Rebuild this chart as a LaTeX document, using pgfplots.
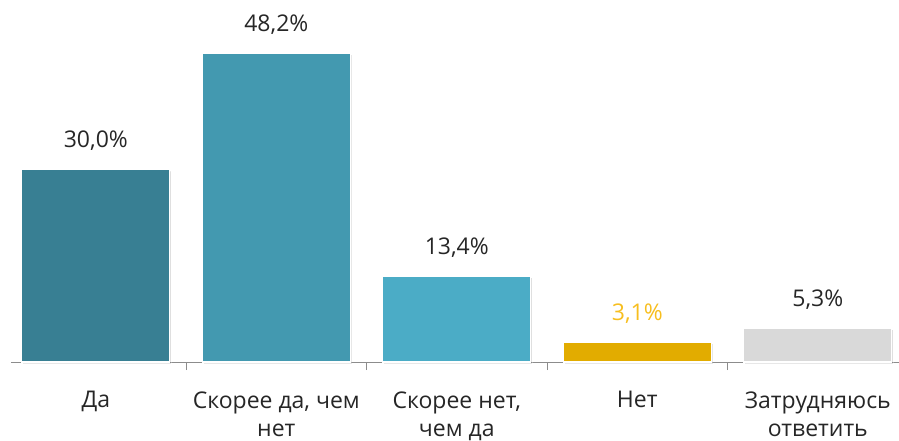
\documentclass[border=0pt]{standalone}
\usepackage{pgfplots}
\pgfplotsset{compat=1.18}
\usepackage{fontspec}
\setmainfont{Open Sans}
\usetikzlibrary{shadows,calc}
\definecolor{c1}{HTML}{387F93}
\definecolor{c2}{HTML}{4399B0}
\definecolor{c3}{HTML}{4BACC6}
\definecolor{c4}{HTML}{E2AC00}
\definecolor{c5}{HTML}{D9D9D9}
\definecolor{lab4}{HTML}{F7BE1E}
\definecolor{axisgray}{HTML}{8C8C8C}
\begin{document}
\begin{tikzpicture}
\begin{axis}[
  scale only axis, width=888pt, height=320.5pt,
  xmin=-0.47, xmax=4.45, ymin=0, ymax=50,
  axis x line*=bottom, axis y line=none,
  x axis line style={draw=axisgray, line width=0.8pt, -},
  xtick={0,1,2,3,4},
  xticklabels={Да, {Скорее да, чем\\нет}, {Скорее нет,\\чем да}, Нет, {Затрудняюсь\\ответить}},
  major tick length=0pt,
  minor xtick={0.5,1.5,2.5,3.5},
  minor tick length=8pt,
  tick align=outside,
  minor tick style={draw=axisgray, line width=0.8pt},
  ytick=\empty,
  xticklabel style={align=center, font=\fontsize{23}{28.5}\selectfont, text=black!85, anchor=north, yshift=-26pt},
  ybar, bar width=148pt, bar shift=0pt,
  nodes near coords={\pgfmathprintnumber{\pgfplotspointmeta}\%},
  nodes near coords style={font=\fontsize{23}{27}\selectfont, text=black!85, anchor=south, yshift=15pt},
  /pgf/number format/assume math mode=true,
  /pgf/number format/fixed, /pgf/number format/fixed zerofill,
  /pgf/number format/precision=1, /pgf/number format/use comma,
  clip=false,
]
\addplot[fill=c1, draw=white, line width=1.2pt, drop shadow={shadow xshift=1.5pt, shadow yshift=-1.5pt, opacity=0.25}] coordinates {(0,30.0)};
\addplot[fill=c2, draw=white, line width=1.2pt, drop shadow={shadow xshift=1.5pt, shadow yshift=-1.5pt, opacity=0.25}] coordinates {(1,48.2)};
\addplot[fill=c3, draw=white, line width=1.2pt, drop shadow={shadow xshift=1.5pt, shadow yshift=-1.5pt, opacity=0.25}] coordinates {(2,13.4)};
\addplot[fill=c4, draw=white, line width=1.2pt, drop shadow={shadow xshift=1.5pt, shadow yshift=-1.5pt, opacity=0.25}, nodes near coords style={text=lab4}] coordinates {(3,3.1)};
\addplot[fill=c5, draw=white, line width=1.2pt, drop shadow={shadow xshift=1.5pt, shadow yshift=-1.5pt, opacity=0.25}] coordinates {(4,5.3)};
\coordinate (o) at (axis cs:-0.47,0);
\end{axis}
\pgfresetboundingbox
\path[use as bounding box] ($(o)+(-11pt,-78pt)$) rectangle ++(899pt,440pt);
\end{tikzpicture}
\end{document}
